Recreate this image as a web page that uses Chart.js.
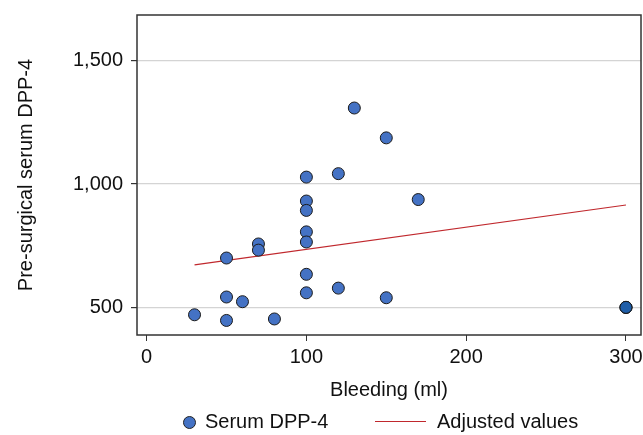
<!DOCTYPE html>
<html><head>
<meta charset="UTF-8">
<title>Serum DPP-4 vs bleeding</title>
<script src="https://cdn.jsdelivr.net/npm/chart.js"></script>
<style>
    body { margin: 0; background: #fff; font-family: 'Liberation Sans', Arial, sans-serif; }
    #wrap { position: relative; width: 643px; height: 435px; }
    #legend {
        position: absolute; left: 0; top: 408px; width: 643px; height: 27px;
        font-size: 20px; color: #111;
    }
    .item { position: absolute; top: 2px; white-space: nowrap; }
    .dot {
        position: absolute; width: 11px; height: 11px; border-radius: 50%;
        background: #4472c4; border: 1px solid #222; top: 8px;
    }
    .ln { position: absolute; height: 1px; background: #c0282d; top: 13px; }
</style>
</head>
<body>
<div id="wrap">
    <canvas id="myChart" width="643" height="435"></canvas>
    <div id="legend">
        <span class="dot" style="left:183px"></span>
        <span class="item" style="left:205px">Serum DPP-4</span>
        <span class="ln" style="left:375px; width:51px"></span>
        <span class="item" style="left:437px">Adjusted values</span>
    </div>
</div>
<script>
    // bleeding (ml) and pre-surgical serum DPP-4
    const bleeding = [30, 50, 50, 50, 60, 70, 70, 80, 100, 100, 100, 100, 100, 100, 100, 120, 120, 130, 150, 150, 170, 300, 300, 300];
    const dpp4 = [470, 542, 447, 700, 523, 757, 732, 453, 1028, 931, 893, 806, 765, 634, 559, 1042, 578, 1308, 1187, 539, 937, 500, 500, 500];

    // fitted ("adjusted") line end points
    const fitX = [30, 300];
    const fitY = [672, 915];

    const xTicks = [0, 100, 200, 300];
    const yTicks = [500, 1000, 1500];

    const points = bleeding.map((b, i) => ({ x: b, y: dpp4[i] }));
    const fitLine = fitX.map((b, i) => ({ x: b, y: fitY[i] }));

    // coincident observations look darker in the original
    function pointColor(ctx) {
        const p = points[ctx.dataIndex];
        if (!p) return '#4472c4';
        const n = points.filter(q => q.x === p.x && q.y === p.y).length;
        return n > 1 ? '#1f5ea8' : '#4472c4';
    }

    const fontFamily = "'Liberation Sans', Arial, sans-serif";

    const frame = {
        id: 'frame',
        afterDraw(chart) {
            const a = chart.chartArea;
            const c = chart.ctx;
            c.save();
            c.strokeStyle = '#333';
            c.lineWidth = 1.5;
            c.strokeRect(a.left, a.top, a.right - a.left, a.bottom - a.top);
            c.restore();
        }
    };

    const ctx = document.getElementById('myChart').getContext('2d');
    new Chart(ctx, {
        type: 'scatter',
        data: {
            datasets: [{
                label: 'Serum DPP-4',
                data: points,
                pointRadius: 6,
                pointHoverRadius: 6,
                pointBackgroundColor: pointColor,
                pointBorderColor: '#1a1a1a',
                pointBorderWidth: 1,
                clip: false,
                order: 1
            }, {
                type: 'line',
                label: 'Adjusted values',
                data: fitLine,
                borderColor: '#c0282d',
                borderWidth: 1.2,
                pointRadius: 0,
                fill: false,
                order: 2
            }]
        },
        options: {
            responsive: false,
            animation: false,
            layout: { autoPadding: false, padding: { left: 0, right: 2, top: 15, bottom: 30 } },
            plugins: {
                legend: { display: false },
                tooltip: { enabled: false }
            },
            scales: {
                x: {
                    type: 'linear',
                    min: -6,
                    max: 309.4,
                    afterBuildTicks: s => { s.ticks = xTicks.map(v => ({ value: v })); },
                    afterFit: s => { s.height = 70; s.paddingLeft = 0; s.paddingRight = 0; },
                    grid: { drawOnChartArea: false, drawTicks: true, tickLength: 6, tickColor: '#333' },
                    border: { display: false },
                    ticks: { color: '#111', padding: 4, font: { family: fontFamily, size: 20 } },
                    title: {
                        display: true, text: 'Bleeding (ml)', color: '#111',
                        font: { family: fontFamily, size: 20 }, padding: { top: 0, bottom: 3 }
                    }
                },
                y: {
                    type: 'linear',
                    min: 388,
                    max: 1685,
                    afterBuildTicks: s => { s.ticks = yTicks.map(v => ({ value: v })); },
                    afterFit: s => { s.width = 137; s.paddingTop = 0; s.paddingBottom = 0; },
                    grid: { color: '#d4d4d4', lineWidth: 1.2, drawTicks: true, tickLength: 6, tickColor: '#333' },
                    border: { display: false },
                    ticks: {
                        color: '#111', padding: 8, font: { family: fontFamily, size: 20 },
                        callback: v => v.toLocaleString('en-US')
                    },
                    title: {
                        display: true, text: 'Pre-surgical serum DPP-4', color: '#111',
                        font: { family: fontFamily, size: 20 }, padding: { top: 14, bottom: 0 }
                    }
                }
            }
        },
        plugins: [frame]
    });
</script>
</body></html>
